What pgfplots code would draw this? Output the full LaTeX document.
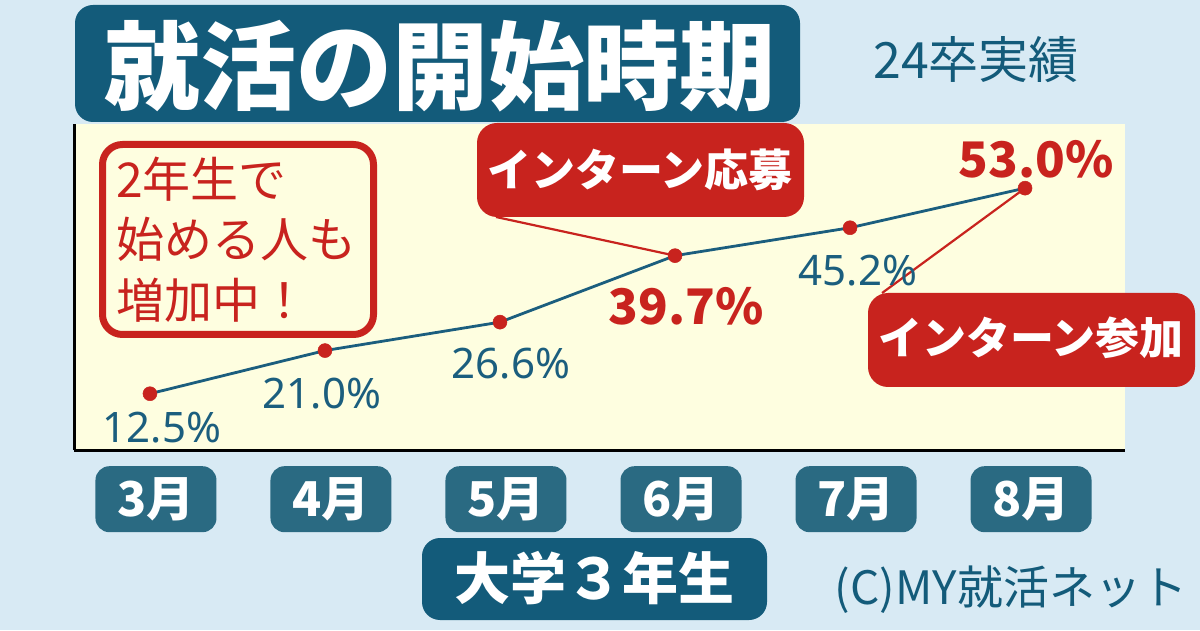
\documentclass[border=0pt]{standalone}
\usepackage{fontspec}
\setmainfont{Noto Sans CJK JP}
\newfontfamily\jp{Noto Sans CJK JP}
\newfontfamily\lat{Noto Sans}
\usepackage{pgfplots}
\pgfplotsset{compat=1.18}
\definecolor{bgc}{HTML}{D8EAF4}
\definecolor{titlec}{HTML}{135B7A}
\definecolor{monthc}{HTML}{2A6A82}
\definecolor{redc}{HTML}{C8231E}
\definecolor{linec}{HTML}{1B5E7E}
\definecolor{yellowc}{HTML}{FEFEE0}
\newcommand{\fs}[1]{\fontsize{#1}{#1}\selectfont}
\begin{document}
\begin{tikzpicture}
\path[use as bounding box] (0pt,0pt) rectangle (1200pt,630pt);
\fill[bgc] (0pt,0pt) rectangle (1200pt,630pt);
\begin{axis}[
  at={(74pt,180pt)}, anchor=south west,
  scale only axis, width=1051pt, height=326pt,
  xmin=-0.434, xmax=5.571, ymin=1.41, ymax=65.64,
  axis x line*=bottom, axis y line*=left,
  axis line style={-, line width=3pt, black},
  axis background/.style={fill=yellowc},
  ytick=\empty, xtick={0,1,2,3,4,5},
  xticklabels={3月,4月,5月,6月,7月,8月},
  major tick length=0pt,
  xticklabel style={fill=monthc, text=white, font=\jp\bfseries\fs{48}, rounded corners=14pt, minimum width=121pt, minimum height=66pt, inner sep=0pt, anchor=north, yshift=-16pt, xshift=6pt},
  clip=false,
]
\draw[redc, line width=2.2pt] (axis cs:1.977,47.32) -- (axis cs:3,39.7);
\draw[redc, line width=2.2pt] (axis cs:5,53.0) -- (axis cs:4.183,32.34);
\addplot[linec, line width=2.8pt, mark=*, mark size=7pt, mark options={solid, fill=redc, draw=redc, line width=0.5pt}] coordinates {(0,12.5) (1,21.0) (2,26.6) (3,39.7) (4,45.2) (5,53.0)};
\node[text=linec, font=\lat\fs{42}] at (axis cs:0,12.5) [xshift=12pt, yshift=-34pt] {12.5\%};
\node[text=linec, font=\lat\fs{42}] at (axis cs:1,21.0) [xshift=-3pt, yshift=-43pt] {21.0\%};
\node[text=linec, font=\lat\fs{42}] at (axis cs:2,26.6) [xshift=11pt, yshift=-41pt] {26.6\%};
\node[text=redc, font=\jp\bfseries\fs{49}] at (axis cs:3,39.7) [xshift=11pt, yshift=-51pt] {39.7\%};
\node[text=linec, font=\lat\fs{42}] at (axis cs:4,45.2) [xshift=8pt, yshift=-43pt] {45.2\%};
\node[text=redc, font=\jp\bfseries\fs{49}] at (axis cs:5,53.0) [xshift=11pt, yshift=29pt] {53.0\%};
\end{axis}
\fill[titlec, rounded corners=18pt] (75pt,508pt) rectangle (800pt,625pt);
\node[text=white, font=\jp\bfseries\fs{96}] at (440pt,564pt) {就活の開始時期};
\node[text=titlec, font=\jp\fs{50}] at (976pt,570pt) {24卒実績};
\draw[redc, line width=7pt, fill=yellowc, rounded corners=20pt] (102.5pt,485.5pt) rectangle (373.5pt,295.5pt);
\node[anchor=west, text=redc, font=\jp\fs{48}, inner sep=0pt] at (116pt,451pt) {2年生で};
\node[anchor=west, text=redc, font=\jp\fs{48}, inner sep=0pt] at (116pt,391pt) {始める人も};
\node[anchor=west, text=redc, font=\jp\fs{48}, inner sep=0pt] at (116pt,330pt) {増加中！};
\fill[redc, rounded corners=20pt] (477pt,413pt) rectangle (804pt,507pt);
\node[text=white, font=\jp\bfseries\fs{44}] at (640pt,460pt) {インターン応募};
\fill[redc, rounded corners=20pt] (868pt,243pt) rectangle (1195pt,337pt);
\node[text=white, font=\jp\bfseries\fs{44}] at (1031pt,292pt) {インターン参加};
\fill[titlec, rounded corners=18pt] (422pt,10pt) rectangle (767pt,92pt);
\node[text=white, font=\jp\bfseries\fs{56}] at (594pt,52pt) {大学３年生};
\node[text=titlec, font=\jp\fs{46}] at (1011pt,40pt) {(C)MY就活ネット};
\end{tikzpicture}
\end{document}
